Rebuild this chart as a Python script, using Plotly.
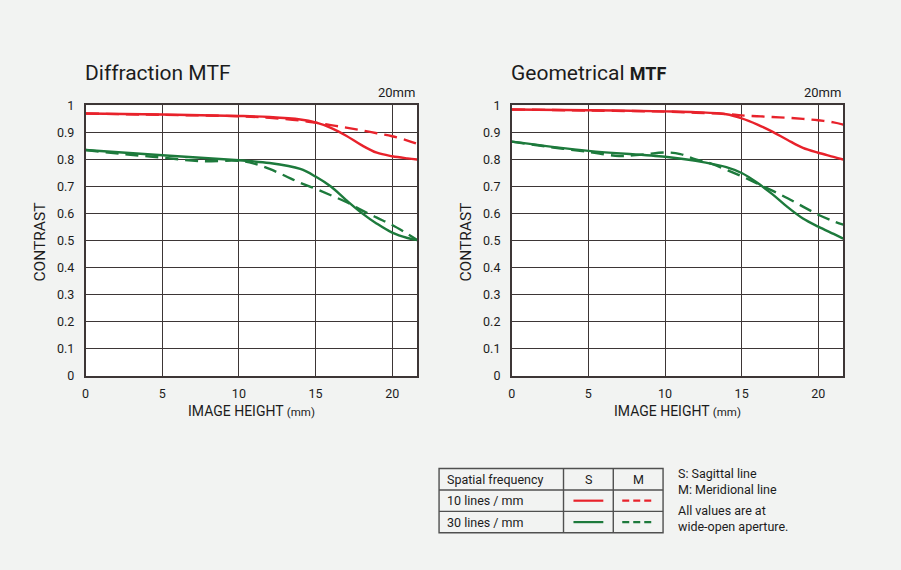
import plotly.graph_objects as go

# ---------------- data ----------------
# Diffraction MTF (left)
dif_x = [0, 5, 10, 12, 14, 15, 16, 17, 18, 19, 20, 21, 21.63]
dif_10_s = [0.970, 0.966, 0.961, 0.957, 0.948, 0.937, 0.917, 0.888, 0.853, 0.825, 0.812, 0.804, 0.800]
dif_10_m = [0.970, 0.965, 0.960, 0.954, 0.944, 0.936, 0.927, 0.918, 0.908, 0.897, 0.886, 0.870, 0.858]
dif_30_s = [0.835, 0.816, 0.797, 0.787, 0.765, 0.737, 0.700, 0.650, 0.603, 0.563, 0.530, 0.510, 0.502]
dif_30_m_x = [0, 2.5, 5, 7.5, 10, 11, 12, 13, 14, 15, 16, 17, 18, 19, 20, 21, 21.63]
dif_30_m = [0.835, 0.820, 0.807, 0.794, 0.795, 0.785, 0.765, 0.740, 0.714, 0.692, 0.668, 0.643, 0.613, 0.585, 0.558, 0.525, 0.503]

# Geometrical MTF (right)
geo_x = [0, 5, 10, 12, 14, 15, 16, 17, 18, 19, 20, 21, 21.63]
geo_10_s = [0.985, 0.982, 0.978, 0.975, 0.967, 0.952, 0.930, 0.903, 0.872, 0.843, 0.825, 0.810, 0.800]
geo_10_m = [0.985, 0.981, 0.977, 0.973, 0.968, 0.963, 0.960, 0.957, 0.954, 0.950, 0.945, 0.937, 0.929]
geo_30_s = [0.866, 0.832, 0.810, 0.795, 0.772, 0.750, 0.715, 0.672, 0.624, 0.582, 0.552, 0.525, 0.508]
geo_30_m_x = [0, 2.5, 5, 7, 8.5, 10, 11, 12, 13, 14, 15, 16, 17, 18, 19, 20, 21, 21.63]
geo_30_m = [0.866, 0.846, 0.828, 0.813, 0.818, 0.826, 0.820, 0.800, 0.785, 0.762, 0.738, 0.712, 0.685, 0.657, 0.626, 0.596, 0.572, 0.559]

x_ticks = [0, 5, 10, 15, 20]
y_ticks = [0, 0.1, 0.2, 0.3, 0.4, 0.5, 0.6, 0.7, 0.8, 0.9, 1]
y_tick_labels = ["0", "0.1", "0.2", "0.3", "0.4", "0.5", "0.6", "0.7", "0.8", "0.9", "1"]

titles = ["Diffraction MTF", "Geometrical <b><span style='font-size:18px'>MTF</span></b>"]
focal = "20mm"
x_title = "IMAGE HEIGHT <span style='font-size:11.5px'>(mm)</span>"
y_title = "CONTRAST"
legend_header = ["Spatial frequency", "S", "M"]
legend_rows = ["10 lines / mm", "30 lines / mm"]
notes = ["S: Sagittal line", "M: Meridional line", "All values are at", "wide-open aperture."]

# ---------------- styling ----------------
W, H = 901, 570
RED = "#e8222b"
GREEN = "#1d7a3c"
GRID = "#3d3636"
BG = "#f2f3f2"
TXT = "#1c1c1c"
FONT = "Roboto"
DASH = "13px,7px"
LW = 2.4


def px(x):
    return x / W


def py(y):
    return 1 - y / H


fig = go.Figure()

panels = [
    ("x", "y", dif_x, dif_10_s, dif_10_m, dif_x, dif_30_s, dif_30_m_x, dif_30_m),
    ("x2", "y2", geo_x, geo_10_s, geo_10_m, geo_x, geo_30_s, geo_30_m_x, geo_30_m),
]
for xa, ya, x10, s10, m10, x30, s30, x30m, m30 in panels:
    common = dict(xaxis=xa, yaxis=ya, mode="lines", showlegend=False, hoverinfo="skip")
    fig.add_trace(go.Scatter(x=x10, y=m10, line=dict(color=RED, width=LW, dash=DASH, shape="spline"), **common))
    fig.add_trace(go.Scatter(x=x10, y=s10, line=dict(color=RED, width=LW, shape="spline"), **common))
    fig.add_trace(go.Scatter(x=x30m, y=m30, line=dict(color=GREEN, width=LW, dash=DASH, shape="spline"), **common))
    fig.add_trace(go.Scatter(x=x30, y=s30, line=dict(color=GREEN, width=LW, shape="spline"), **common))

plot_left = [82, 510]
plot_right = [415, 843]
top, bottom = 100, 378

axis_common_x = dict(
    range=[0, 21.63], tickvals=x_ticks, showgrid=True, gridcolor=GRID, gridwidth=1.4,
    showline=True, linecolor=GRID, linewidth=1.6, mirror=True, zeroline=False,
    ticks="outside", ticklen=5, tickcolor="rgba(0,0,0,0)",
    tickfont=dict(family=FONT, size=12.5, color=TXT), fixedrange=True,
)
axis_common_y = dict(
    range=[0, 1], tickvals=y_ticks, ticktext=y_tick_labels, showgrid=True, gridcolor=GRID,
    gridwidth=1.4, showline=True, linecolor=GRID, linewidth=1.6, mirror=True, zeroline=False,
    ticks="outside", ticklen=7, tickcolor="rgba(0,0,0,0)",
    tickfont=dict(family=FONT, size=12.5, color=TXT), fixedrange=True,
)

fig.update_layout(
    width=W, height=H, autosize=False,
    margin=dict(l=0, r=0, t=0, b=0, pad=0),
    paper_bgcolor=BG, plot_bgcolor="white",
    xaxis=dict(domain=[px(plot_left[0]), px(plot_right[0])], anchor="y", **axis_common_x),
    yaxis=dict(domain=[py(bottom), py(top)], anchor="x", **axis_common_y),
    xaxis2=dict(domain=[px(plot_left[1]), px(plot_right[1])], anchor="y2", **axis_common_x),
    yaxis2=dict(domain=[py(bottom), py(top)], anchor="x2", **axis_common_y),
    font=dict(family=FONT, color=TXT),
)

ann = []
for i in range(2):
    L, R = plot_left[i], plot_right[i]
    ann.append(dict(x=px(L - 3), y=py(67), xref="paper", yref="paper", text=titles[i],
                    showarrow=False, xanchor="left", yanchor="middle",
                    font=dict(family=FONT, size=21, color=TXT)))
    ann.append(dict(x=px(R), y=py(87), xref="paper", yref="paper", text=focal,
                    showarrow=False, xanchor="right", yanchor="middle",
                    font=dict(family=FONT, size=13, color=TXT)))
    ann.append(dict(x=px((L + R) / 2), y=py(414), xref="paper", yref="paper", text=x_title,
                    showarrow=False, xanchor="center", yanchor="middle",
                    font=dict(family=FONT, size=14, color=TXT)))
    ann.append(dict(x=px(L - 46), y=py(240), xref="paper", yref="paper", text=y_title,
                    showarrow=False, xanchor="center", yanchor="middle", textangle=-90,
                    font=dict(family=FONT, size=15.5, color=TXT)))

# legend table
tx0, tx1, tx2, tx3 = 437, 562, 612, 662
ty0, ty1, ty2, ty3 = 473, 495, 517, 539
shapes = []
TB = "#505050"
shapes.append(dict(type="rect", xref="paper", yref="paper", x0=px(tx0), x1=px(tx3),
                   y0=py(ty0), y1=py(ty3), line=dict(color=TB, width=1.4)))
for yy in (ty1, ty2):
    shapes.append(dict(type="line", xref="paper", yref="paper", x0=px(tx0), x1=px(tx3),
                       y0=py(yy), y1=py(yy), line=dict(color=TB, width=1.4)))
for xx in (tx1, tx2):
    shapes.append(dict(type="line", xref="paper", yref="paper", x0=px(xx), x1=px(xx),
                       y0=py(ty0), y1=py(ty3), line=dict(color=TB, width=1.4)))
for yy, col in (((ty1 + ty2) / 2, RED), ((ty2 + ty3) / 2, GREEN)):
    shapes.append(dict(type="line", xref="paper", yref="paper", x0=px(572), x1=px(602),
                       y0=py(yy), y1=py(yy), line=dict(color=col, width=2.2)))
    shapes.append(dict(type="line", xref="paper", yref="paper", x0=px(621), x1=px(653),
                       y0=py(yy), y1=py(yy), line=dict(color=col, width=2.2, dash="7px,4px")))

ann.append(dict(x=px(tx0 + 6), y=py((ty0 + ty1) / 2), xref="paper", yref="paper",
                text=legend_header[0], showarrow=False, xanchor="left", yanchor="middle",
                font=dict(family=FONT, size=12.5, color=TXT)))
ann.append(dict(x=px((tx1 + tx2) / 2), y=py((ty0 + ty1) / 2), xref="paper", yref="paper",
                text=legend_header[1], showarrow=False, xanchor="center", yanchor="middle",
                font=dict(family=FONT, size=12.5, color=TXT)))
ann.append(dict(x=px((tx2 + tx3) / 2), y=py((ty0 + ty1) / 2), xref="paper", yref="paper",
                text=legend_header[2], showarrow=False, xanchor="center", yanchor="middle",
                font=dict(family=FONT, size=12.5, color=TXT)))
for k, yy in enumerate(((ty1 + ty2) / 2, (ty2 + ty3) / 2)):
    ann.append(dict(x=px(tx0 + 6), y=py(yy), xref="paper", yref="paper",
                    text=legend_rows[k], showarrow=False, xanchor="left", yanchor="middle",
                    font=dict(family=FONT, size=12.5, color=TXT)))
for k, yy in enumerate((478, 495, 516, 533)):
    ann.append(dict(x=px(675), y=py(yy), xref="paper", yref="paper", text=notes[k],
                    showarrow=False, xanchor="left", yanchor="middle",
                    font=dict(family=FONT, size=12.5, color=TXT)))

fig.update_layout(annotations=ann, shapes=shapes)
fig.write_html(
    "out.html",
    config={"displayModeBar": False},
    post_script="document.body.style.margin='0';document.body.style.overflow='hidden';"
                "document.documentElement.style.overflow='hidden';",
)
